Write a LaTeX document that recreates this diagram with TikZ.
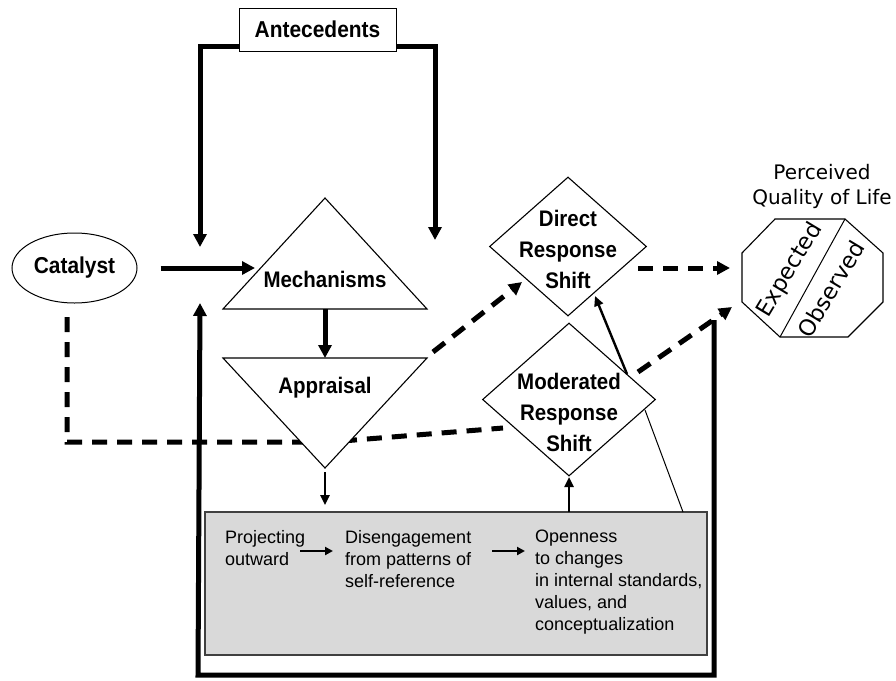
\documentclass[tikz,border=0pt]{standalone}
\usepackage{fontspec}
\setmainfont{Liberation Sans}
\newfontfamily\verdfont{DejaVu Sans}
\newfontfamily\lblfont[FakeStretch=0.91]{Liberation Sans}
\usetikzlibrary{arrows.meta,shapes.geometric}
\begin{document}
\begin{tikzpicture}[x=1pt,y=-1pt,
  shapeline/.style={draw=black,line width=1.1pt,fill=white,line join=miter},
  boldlabel/.style={font=\lblfont\bfseries\fontsize{22.5}{31}\selectfont,align=center,inner sep=0pt},
  boxtext/.style={font=\fontsize{18}{22}\selectfont,align=left,anchor=north west,inner sep=0pt},
  bigline/.style={line width=5pt,line join=miter},
  bigarrow/.style={bigline,-{Triangle[length=13pt,width=13pt]}},
  bigdash/.style={line width=5pt,dash pattern=on 15pt off 10pt,line join=miter},
  bigdasharrow/.style={bigdash,-{Triangle[length=13pt,width=13pt]}},
  midarrow/.style={line width=2.4pt,-{Triangle[length=10pt,width=9pt]}},
  smallarrow/.style={line width=2pt,-{Triangle[length=8pt,width=8pt]}},
  thinline/.style={line width=1pt},
  qolfont/.style={font=\verdfont\fontsize{22.5}{25}\selectfont,rotate=59,inner sep=0pt}
]
\useasboundingbox (0,0) rectangle (896,680);

% ---------- named points ----------
\coordinate (anteL) at (239,46);
\coordinate (anteLc) at (200,46);
\coordinate (anteR) at (396,46);
\coordinate (anteRc) at (435,46);
\coordinate (mechInL) at (200,247);
\coordinate (mechInR) at (435,240);
\coordinate (mechTop) at (325,198);
\coordinate (mechBL) at (223,309);
\coordinate (mechBR) at (427,309);
\coordinate (mechB) at (325,309);
\coordinate (mechL) at (255,268);
\coordinate (apTL) at (223,358);
\coordinate (apTR) at (427,358);
\coordinate (apT) at (325,358);
\coordinate (apBot) at (325,468);
\coordinate (apOut) at (325,472);
\coordinate (apOutDash) at (433,352);
\coordinate (catDown) at (67,317);
\coordinate (catCorner) at (67,442);
\coordinate (apHidden) at (330,442);
\coordinate (modLeft) at (503,428);
\coordinate (drL) at (522,282);
\coordinate (drOut) at (638,268);
\coordinate (qolIn1) at (730,268);
\coordinate (modOut) at (638,372);
\coordinate (qolIn2) at (732,307);
\coordinate (joinPt) at (714,320);
\coordinate (modEdge) at (627,374);
\coordinate (drBot) at (595,296);
\coordinate (modEdge2) at (645,410);
\coordinate (boxTop2) at (683,512);
\coordinate (boxTop1) at (325,505);
\coordinate (boxTopM) at (569,512);
\coordinate (modBot) at (569,477);
\coordinate (loopL) at (200,303);
\coordinate (loopBL) at (198,675);
\coordinate (loopBR) at (714,675);

% ---------- connector that passes behind Appraisal ----------
\draw[bigdash] (catDown) -- (catCorner) -- (apHidden) -- (modLeft);

% ---------- shapes ----------
\node[draw,line width=1pt,fill=white,minimum width=157pt,minimum height=43pt,
      font=\lblfont\bfseries\fontsize{23}{25}\selectfont] (ante) at (317.5,29.5) {Antecedents};
\node[draw,ellipse,line width=1pt,fill=white,minimum width=125pt,minimum height=70pt,
      font=\lblfont\bfseries\fontsize{23}{25}\selectfont] (cat) at (74.5,268) {Catalyst};

\draw[shapeline] (mechBL) -- (mechBR) -- (mechTop) -- cycle;
\node[boldlabel] (mech) at (325,279) {Mechanisms};

\draw[shapeline] (apTL) -- (apTR) -- (apBot) -- cycle;
\node[boldlabel] (appr) at (325,388) {Appraisal};

\node[draw,diamond,line width=1.1pt,fill=white,minimum width=157pt,minimum height=139pt,inner sep=0pt] (drs) at (568,246.5) {};
\node[boldlabel] (drstext) at (568,249) {Direct\\Response\\Shift};

\node[draw,diamond,line width=1.1pt,fill=white,minimum width=173pt,minimum height=153pt,inner sep=0pt] (mrs) at (569,399.5) {};
\node[boldlabel] (mrstext) at (569,412) {Moderated\\Response\\Shift};

% quality of life octagon
\draw[shapeline] (775,219) -- (845,219) -- (883,253) -- (883,302) -- (848,337) -- (780,337) -- (742,302) -- (742,253) -- cycle;
\draw[thinline] (845,219) -- (780,337);
\node[qolfont] (exp) at (790,270) {Expected};
\node[qolfont] (obs) at (831,289) {Observed};
\node[font=\verdfont\fontsize{20}{25}\selectfont,align=center,inner sep=0pt] (qoltitle) at (822,186) {Perceived\\Quality of Life};

% grey process box
\node[draw=black!75,line width=1.5pt,fill=black!15,minimum width=502pt,minimum height=143pt,inner sep=0pt] (procbox) at (456,583.5) {};
\node[boxtext] (proj) at (225,530) {Projecting\\outward};
\node[boxtext] (dis) at (345,530) {Disengagement\\from patterns of\\self-reference};
\node[boxtext] (open) at (535,530) {Openness\\to changes\\in internal standards,\\values, and\\conceptualization};
\coordinate (a1s) at (300,551);
\coordinate (a1e) at (333,551);
\coordinate (a2s) at (492,551);
\coordinate (a2e) at (525,551);
\draw[smallarrow] (a1s) -- (a1e);
\draw[smallarrow] (a2s) -- (a2e);

% ---------- connectors ----------
\draw[bigarrow] (anteL) -- (anteLc) -- (mechInL);
\draw[bigarrow] (anteR) -- (anteRc) -- (mechInR);
\draw[bigarrow] (cat.east) ++(23,0) -- (mechL);
\draw[bigarrow] (mechB) -- (apT);
\draw[midarrow] (apOut) -- (boxTop1);
\draw[midarrow] (boxTopM) -- (modBot);
\draw[midarrow] (modEdge) -- (drBot);
\draw[thinline] (modEdge2) -- (boxTop2);
\draw[bigdasharrow] (apOutDash) -- (drL);
\draw[bigdasharrow] (drOut) -- (qolIn1);
\draw[bigdasharrow] (modOut) -- (qolIn2);
\draw[bigarrow] (joinPt) -- (loopBR) -- (loopBL) -- (loopL);
\end{tikzpicture}
\end{document}
